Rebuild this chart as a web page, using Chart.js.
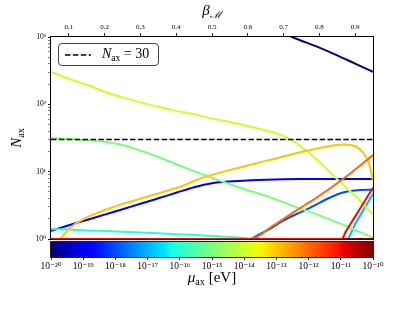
<!DOCTYPE html>
<html>
<head>
<meta charset="utf-8">
<script src="https://cdn.jsdelivr.net/npm/chart.js@4.4.1/dist/chart.umd.min.js"></script>
<style>
html,body{margin:0;padding:0;background:#fff;}
#wrap{position:relative;width:415px;height:311px;overflow:hidden;font-family:"Liberation Serif","DejaVu Serif",serif;color:#000;}
canvas{position:absolute;left:0;}
#main{top:0;}
#cbar{top:238px;}
.lbl{position:absolute;white-space:nowrap;line-height:1;}
.lbl sub{font-size:68%;vertical-align:-0.28em;font-style:normal;}
#tTop{left:212px;top:12px;transform:translate(-50%,-50%);font-size:15px;}
#tY{left:18px;top:138px;transform:translate(-50%,-50%) rotate(-90deg);font-size:15px;}
#tMu{left:212px;top:279px;transform:translate(-50%,-50%);font-size:15px;}
#legend{position:absolute;left:58px;top:43px;width:101px;height:23px;box-sizing:border-box;border:1px solid #444;border-radius:4px;background:#fff;}
#legend svg{position:absolute;left:5px;top:9px;}
#legend .txt{position:absolute;left:43px;top:50%;transform:translateY(-50%);font-size:14px;white-space:nowrap;line-height:1;}
#legend .txt sub{font-size:68%;vertical-align:-0.28em;font-style:normal;}
</style>
</head>
<body>
<div id="wrap">
  <canvas id="main" width="415" height="311"></canvas>
  <canvas id="cbar" width="415" height="50"></canvas>
  <div class="lbl" id="tTop"><i>β</i><sub><i>ℳ</i></sub></div>
  <div class="lbl" id="tY"><i>N</i><sub>ax</sub></div>
  <div class="lbl" id="tMu"><i>μ</i><sub>ax</sub> [eV]</div>
  <div id="legend">
    <svg width="28" height="4"><line x1="1" y1="2" x2="27" y2="2" stroke="#000" stroke-width="1.5" stroke-dasharray="5.5 2.4"/></svg>
    <div class="txt"><i>N</i><sub>ax</sub> = 30</div>
  </div>
</div>
<script>
// ---------- data ----------
const muExponents = [-20,-19,-18,-17,-16,-15,-14,-13,-12,-11,-10];
const betaTicks = [0.1,0.2,0.3,0.4,0.5,0.6,0.7,0.8,0.9];
const nMajorTicks = [1,10,100,1000];
const nThreshold = 30;

// [beta, N_ax] pairs
const curveMu20 = [[0.70,1150],[0.724,1000],[0.80,697],[0.85,535],[0.90,402],[0.95,303]];
const curveMu19 = [[0.05,1.32],[0.10,1.60],[0.15,1.92],[0.20,2.30],[0.25,2.77],[0.30,3.33],[0.35,4.02],[0.40,4.86],[0.45,5.87],[0.50,6.73],[0.55,7.16],[0.60,7.39],[0.65,7.60],[0.70,7.73],[0.75,7.78],[0.95,7.78]];
const curveMu18 = [[0.05,1],[0.606,1],[0.629,1.15],[0.662,1.41],[0.698,1.86],[0.737,2.36],[0.774,2.90],[0.830,4.13],[0.866,4.91],[0.914,5.33],[0.95,5.39]];
const curveMu17 = [[0.05,1],[0.877,1],[0.90,1.66],[0.925,2.79],[0.95,4.65]];
const curveMu16 = [[0.05,1.41],[0.10,1.38],[0.15,1.34],[0.20,1.31],[0.25,1.28],[0.30,1.25],[0.35,1.22],[0.40,1.18],[0.45,1.15],[0.50,1.11],[0.55,1.07],[0.60,1.03],[0.63,1.0],[0.95,1]];
const curveMu15 = [[0.05,31.6],[0.10,30.5],[0.15,29.2],[0.20,27.6],[0.25,24.9],[0.30,20.6],[0.35,16.5],[0.40,12.9],[0.45,10.2],[0.50,8.13],[0.55,6.51],[0.60,5.29],[0.65,4.38],[0.70,3.51],[0.75,2.80],[0.80,2.24],[0.85,1.76],[0.875,1.56],[0.90,1.36],[0.925,1.19],[0.95,1.045]];
const curveMu14 = [[0.05,303],[0.10,240],[0.15,195],[0.20,154],[0.25,127],[0.30,107],[0.35,91.8],[0.40,80],[0.45,71],[0.50,61.8],[0.55,54.8],[0.60,47.8],[0.65,40.9],[0.70,33.9],[0.75,23.2],[0.80,13.9],[0.85,7.73],[0.875,5.77],[0.90,4.38],[0.925,3.21],[0.95,2.28]];
const curveMu13 = [[0.05,1],[0.07,1],[0.103,1.47],[0.142,1.99],[0.234,3.11],[0.327,4.38],[0.419,6.18],[0.466,7.87],[0.553,10.7],[0.654,14.6],[0.746,19.4],[0.838,24.4],[0.872,25.3],[0.905,23.1],[0.922,19.2],[0.933,15.6],[0.942,11.5],[0.95,7.34]];
const curveMu12 = [[0.05,1],[0.615,1],[0.625,1.07],[0.643,1.23],[0.662,1.47],[0.699,1.97],[0.737,2.68],[0.774,3.57],[0.793,4.13],[0.866,7.78],[0.95,17.6]];
const curveMu11 = [[0.05,1],[0.862,1],[0.875,1.32],[0.90,2.15],[0.925,3.54],[0.95,5.77]];
const curveMu10 = [[0.05,1],[0.95,1]];
const curves = [curveMu20,curveMu19,curveMu18,curveMu17,curveMu16,curveMu15,curveMu14,curveMu13,curveMu12,curveMu11,curveMu10];
// drawing order (higher = on top)
const drawRank = [0,1,2,3,4,5,6,7,8,10,9];

// ---------- jet colormap ----------
const JET = {
  r:[[0,0],[0.35,0],[0.66,1],[0.89,1],[1,0.5]],
  g:[[0,0],[0.125,0],[0.375,1],[0.64,1],[0.91,0],[1,0]],
  b:[[0,0.5],[0.11,1],[0.34,1],[0.65,0],[1,0]]
};
function seg(pts,t){
  for(let i=1;i<pts.length;i++){
    if(t<=pts[i][0]){const [x0,y0]=pts[i-1],[x1,y1]=pts[i];return y0+(y1-y0)*(t-x0)/(x1-x0);}
  }
  return pts[pts.length-1][1];
}
function jet(t){const c=k=>Math.round(255*seg(JET[k],Math.min(1,Math.max(0,t))));return `rgb(${c('r')},${c('g')},${c('b')})`;}
const muMin = muExponents[0], muMax = muExponents[muExponents.length-1];

const SUP = {'0':'⁰','1':'¹','2':'²','3':'³','4':'⁴','5':'⁵','6':'⁶','7':'⁷','8':'⁸','9':'⁹','-':'⁻'};
const pow10Label = e => '10' + String(e).split('').map(ch=>SUP[ch]).join('');

const TICKFONT = "'Liberation Serif','DejaVu Serif',serif";

// ---------- main chart ----------
const datasets = curves.map((pts,i)=>({
  data: pts.map(([x,y])=>({x,y})),
  borderColor: jet((muExponents[i]-muMin)/(muMax-muMin)),
  borderWidth: 2,
  pointRadius: 0,
  cubicInterpolationMode: 'monotone',
  fill: false,
  clip: 0,
  order: -drawRank[i]
}));
datasets.push({
  data: [{x:0.05,y:nThreshold},{x:0.95,y:nThreshold}],
  borderColor:'#000', borderWidth:1.5, borderDash:[5.5,2.4], pointRadius:0, fill:false, clip:0, order:-100
});

const framePlugin = {
  id:'frame',
  afterDraw(chart){
    const {ctx, chartArea:a} = chart;
    ctx.save();
    ctx.strokeStyle='#000'; ctx.lineWidth=1;
    ctx.strokeRect(a.left-0.5, a.top-0.5, a.right-a.left+1, a.bottom-a.top+1);
    ctx.restore();
  }
};

const yTickValues = [];
for (let d=1; d<1000; d*=10) for (let k=1;k<10;k++) yTickValues.push(k*d);
yTickValues.push(1000);

new Chart(document.getElementById('main'), {
  type:'line',
  data:{datasets},
  options:{
    responsive:false, animation:false, devicePixelRatio:1,
    layout:{padding:{left:0,right:42,top:0,bottom:72}},
    plugins:{legend:{display:false}, tooltip:{enabled:false}},
    scales:{
      x:{
        type:'linear', position:'top', min:0.05, max:0.95,
        afterBuildTicks:s=>{s.ticks = betaTicks.map(v=>({value:v}));},
        afterFit:s=>{s.height=37;},
        border:{display:false},
        grid:{display:true, drawOnChartArea:false, drawTicks:true, tickLength:4, tickColor:'#000', tickWidth:0.8},
        ticks:{autoSkip:false, maxRotation:0, padding:2, color:'#000', font:{family:TICKFONT, size:7}, callback:v=>v.toFixed(1)}
      },
      y:{
        type:'logarithmic', position:'left', min:1, max:1000,
        afterBuildTicks:s=>{s.ticks = yTickValues.map(v=>({value:v, major: nMajorTicks.includes(v)}));},
        afterFit:s=>{s.width=51;},
        border:{display:false},
        grid:{display:true, drawOnChartArea:false, drawTicks:true, tickLength:3, tickColor:'#000',
              tickWidth:c=> (c.tick && nMajorTicks.includes(c.tick.value)) ? 0.9 : 0.5},
        ticks:{autoSkip:false, padding:2, color:'#000', font:{family:TICKFONT, size:7.5},
               callback:v=> nMajorTicks.includes(v) ? pow10Label(Math.round(Math.log10(v))) : ''}
      }
    }
  },
  plugins:[framePlugin]
});

// ---------- colorbar ----------
const cbarPlugin = {
  id:'cbarFill',
  beforeDatasetsDraw(chart){
    const {ctx, chartArea:a} = chart;
    const g = ctx.createLinearGradient(a.left,0,a.right,0);
    for(let i=0;i<=100;i++) g.addColorStop(i/100, jet(i/100));
    ctx.save();
    ctx.fillStyle=g;
    ctx.fillRect(a.left,a.top,a.right-a.left,a.bottom-a.top);
    ctx.restore();
  },
  afterDraw(chart){
    const {ctx, chartArea:a} = chart;
    ctx.save();
    ctx.strokeStyle='#222'; ctx.lineWidth=1;
    ctx.strokeRect(a.left-0.5, a.top-0.5, a.right-a.left+1, a.bottom-a.top+1);
    ctx.restore();
  }
};

new Chart(document.getElementById('cbar'), {
  type:'line',
  data:{datasets:[]},
  options:{
    responsive:false, animation:false, devicePixelRatio:1,
    layout:{padding:{left:51,right:42,top:4,bottom:0}},
    plugins:{legend:{display:false}, tooltip:{enabled:false}},
    scales:{
      x:{
        type:'logarithmic', position:'bottom', min:Math.pow(10,muMin), max:Math.pow(10,muMax),
        afterBuildTicks:s=>{s.ticks = muExponents.map(e=>({value:Math.pow(10,e)}));},
        afterFit:s=>{s.height=31;},
        border:{display:false},
        grid:{display:true, drawOnChartArea:false, drawTicks:true, tickLength:3, tickColor:'#000', tickWidth:0.8},
        ticks:{autoSkip:false, maxRotation:0, padding:1, color:'#000', font:{family:TICKFONT, size:9.5},
               callback:v=>pow10Label(Math.round(Math.log10(v)))}
      },
      y:{display:false, min:0, max:1}
    }
  },
  plugins:[cbarPlugin]
});
</script>
</body>
</html>
